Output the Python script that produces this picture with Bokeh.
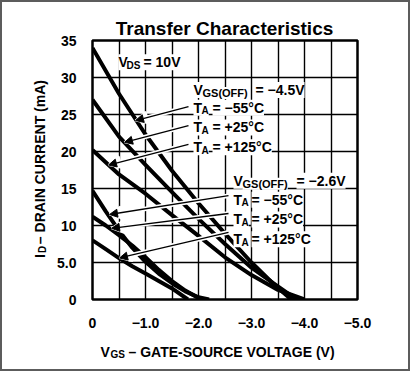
import math
from bokeh.plotting import figure
from bokeh.models import Range1d, FixedTicker, Label, Arrow, NormalHead
from bokeh.embed import file_html
from bokeh.resources import INLINE

# ---------------- data ----------------
x_ticks = [0, -1, -2, -3, -4, -5]
x_tick_labels = ["0", "\u22121.0", "\u22122.0", "\u22123.0", "\u22124.0", "\u22125.0"]
y_ticks = [0, 5, 10, 15, 20, 25, 30, 35]
y_tick_labels = ["0", "5.0", "10", "15", "20", "25", "30", "35"]
x_grid = [-0.5, -1.0, -1.5, -2.0, -2.5, -3.0, -3.5, -4.0, -4.5]
y_grid = [5, 10, 15, 20, 25, 30]

# VGS(OFF) = -4.5 V family
v45_m55 = [0, -0.5, -1.0, -1.5, -2.0, -2.5, -3.0, -3.4, -3.75]
i45_m55 = [34.0, 27.8, 22.3, 17.4, 13.0, 8.9, 5.0, 2.2, 0.0]
v45_p25 = [0, -0.5, -1.0, -1.5, -2.0, -2.5, -3.0, -3.45, -3.85]
i45_p25 = [27.0, 22.0, 18.2, 14.5, 10.9, 7.5, 4.3, 2.0, 0.0]
v45_p125 = [0, -0.3, -0.5, -1.0, -1.5, -2.0, -2.5, -3.0, -3.5, -4.0]
i45_p125 = [20.2, 18.2, 16.9, 14.3, 11.4, 8.6, 5.7, 3.3, 1.3, 0.0]

# VGS(OFF) = -2.6 V family
v26_m55 = [0, -0.25, -0.5, -0.75, -1.0, -1.25, -1.5, -1.75, -2.0, -2.2]
i26_m55 = [14.7, 11.9, 9.3, 7.0, 5.1, 3.5, 2.2, 1.1, 0.3, 0.0]
v26_p25 = [0, -0.25, -0.5, -0.75, -1.0, -1.25, -1.5, -1.75, -2.05]
i26_p25 = [11.2, 10.0, 8.7, 7.3, 5.7, 4.0, 2.5, 1.2, 0.0]
v26_p125 = [0, -0.25, -0.5, -0.75, -1.0, -1.25, -1.5, -1.8]
i26_p125 = [8.0, 6.8, 5.6, 4.5, 3.5, 2.5, 1.5, 0.0]

curves = [
    (v45_m55, i45_m55), (v45_p25, i45_p25), (v45_p125, i45_p125),
    (v26_m55, i26_m55), (v26_p25, i26_p25), (v26_p125, i26_p125),
]

title_text = "Transfer Characteristics"

# ---------------- layout ----------------
FONT = "Liberation Sans"
X0, X1 = 0, -5
Y0, Y1 = 0, 35
W, H = 410, 371            # canvas (plus 2px border = 414 x 375)
OX, OY = 2, 2              # canvas origin on the page
FL, FT, FR, FB = 92, 40, 357, 302   # wanted frame edges on the page
LEFT, TOP = FL - OX, FT - OY
RIGHT_B, BOTTOM_B = W - (FR - OX), H - (FB - OY)


def dx(px):
    return X0 + (px - FL) / (FR - FL) * (X1 - X0)


def dy(py):
    return Y0 + (FB - py) / (FB - FT) * (Y1 - Y0)


p = figure(width=W, height=H, x_range=Range1d(X0, X1), y_range=Range1d(Y0, Y1),
           output_backend="svg", toolbar_location=None,
           min_border_left=LEFT, min_border_top=TOP,
           min_border_right=RIGHT_B, min_border_bottom=BOTTOM_B)
p.styles = {"border": "2px solid #5c5c5c"}
p.background_fill_color = "white"
p.border_fill_color = "white"
p.outline_line_color = "black"
p.outline_line_width = 2.5

p.xgrid.ticker = FixedTicker(ticks=x_grid)
p.ygrid.ticker = FixedTicker(ticks=y_grid)
for g in (p.xgrid, p.ygrid):
    g.grid_line_color = "black"
    g.grid_line_width = 1.4
    g.grid_line_alpha = 1.0

p.xaxis.ticker = FixedTicker(ticks=x_ticks)
p.yaxis.ticker = FixedTicker(ticks=y_ticks)
p.xaxis.major_label_overrides = dict(zip(x_ticks, x_tick_labels))
p.yaxis.major_label_overrides = dict(zip(y_ticks, y_tick_labels))
for ax in (p.xaxis, p.yaxis):
    ax.axis_line_color = None
    ax.major_tick_line_color = None
    ax.minor_tick_line_color = None
    ax.major_label_text_font = FONT
    ax.major_label_text_font_size = "14px"
    ax.major_label_text_font_style = "bold"
    ax.major_label_text_color = "black"
p.xaxis.major_label_standoff = 12
p.yaxis.major_label_standoff = 10

for v, i in curves:
    p.line(v, i, line_width=4, line_color="black", line_join="round")

# arrows (reference pixel positions: start -> tip)
arrows = [
    (188, 107, 135, 121), (188, 126, 124, 143), (188, 145, 108, 166),
    (228, 197, 109, 216), (228, 215, 111, 230), (228, 234, 119, 260),
]
for x0, y0, x1, y1 in arrows:
    p.add_layout(Arrow(x_start=dx(x0), y_start=dy(y0), x_end=dx(x1), y_end=dy(y1),
                       line_color="white", line_width=4.5,
                       end=NormalHead(size=12, fill_color="white", line_color="white", line_width=2)))
for x0, y0, x1, y1 in arrows:
    p.add_layout(Arrow(x_start=dx(x0), y_start=dy(y0), x_end=dx(x1), y_end=dy(y1),
                       line_color="black", line_width=1.3,
                       end=NormalHead(size=8, fill_color="black", line_color="black", line_width=1)))


def txt(t, px, py, size=14, angle=0.0, bg=True, align="left", place="center"):
    lab = Label(x=dx(px), y=dy(py), text=t, text_font=FONT,
                text_font_size=f"{size}px", text_font_style="bold",
                text_color="black", text_align=align, text_baseline="alphabetic",
                angle=angle, background_fill_color="white" if bg else None)
    p.add_layout(lab, place)


SUB = 10
txt("V", 118, 62); txt("DS", 126, 65, SUB); txt("= 10V", 143, 62)
txt("V", 193, 90); txt("GS(OFF)", 202, 93, 11); txt("= \u22124.5V", 255, 90)
for base, t in ((108, "= \u221255\u00b0C"), (128, "= +25\u00b0C"), (148, "= +125\u00b0C")):
    txt("T", 193, base); txt("A", 201, base + 3, SUB); txt(t, 212, base)
txt("V", 233, 182); txt("GS(OFF)", 242, 185, 11); txt("= \u22122.6V", 296, 182)
for base, t in ((201, "= \u221255\u00b0C"), (221, "= +25\u00b0C"), (241, "= +125\u00b0C")):
    txt("T", 233, base); txt("A", 241, base + 3, SUB); txt(t, 251, base)

# axis titles and chart title live in the side panels (not clipped to the frame)
txt("V", 100, 355, bg=False, place="below")
txt("GS", 110, 358, SUB, bg=False, place="below")
txt("\u2013 GATE-SOURCE VOLTAGE (V)", 128, 355, bg=False, place="below")
R = math.pi / 2
txt("I", 39, 260, angle=R, bg=False, place="left")
txt("D", 42, 255, SUB, angle=R, bg=False, place="left")
txt("\u2013 DRAIN CURRENT (mA)", 39, 246, angle=R, bg=False, place="left")
txt(title_text, 224, 28, size=19, bg=False, align="center", place="above")

open("out.html", "w").write(file_html(p, INLINE))
